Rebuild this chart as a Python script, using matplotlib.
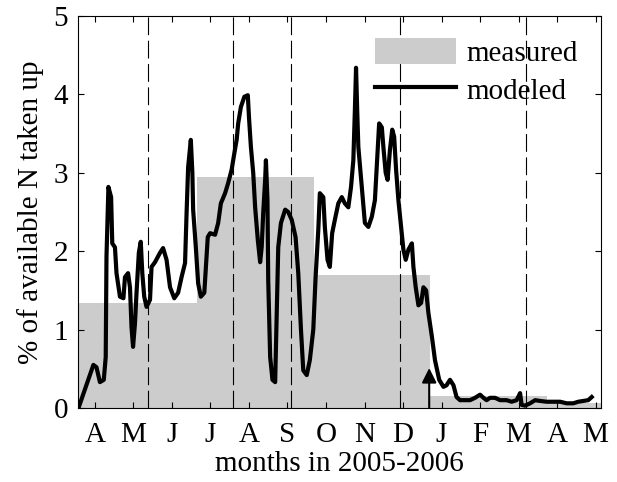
import matplotlib
matplotlib.use("Agg")

import matplotlib.pyplot as plt

# months on x axis: 0 = April 2005 ... 13 = May 2006
month_labels = ["A", "M", "J", "J", "A", "S", "O", "N", "D", "J", "F", "M", "A", "M"]

# measured uptake, one value per measuring period
period_edges = [-0.44, 2.65, 5.69, 8.70, 11.74, 13.14]
measured = [1.34, 2.95, 1.70, 0.15, 0.07]

# dates of measuring campaigns (dashed lines) and the arrow marker
campaigns = [1.38, 3.58, 5.09, 7.92, 11.19]
arrow_x = 8.68
arrow_top = 0.51

# modeled uptake
model_t = [-0.42, -0.04, 0.04, 0.13, 0.23, 0.28, 0.30, 0.35, 0.42, 0.45, 0.52, 0.56,
           0.65, 0.74, 0.78, 0.86, 0.91, 0.95, 0.99, 1.04, 1.08, 1.14, 1.19, 1.23,
           1.28, 1.34, 1.43, 1.47, 1.56, 1.69, 1.77, 1.86, 1.95, 2.06, 2.16, 2.25,
           2.34, 2.38, 2.42, 2.49, 2.53, 2.55, 2.62, 2.68, 2.75, 2.84, 2.93, 2.99,
           3.12, 3.20, 3.27, 3.38, 3.46, 3.55, 3.62, 3.68, 3.72, 3.79, 3.88, 3.97,
           4.00, 4.05, 4.11, 4.16, 4.23, 4.29, 4.33, 4.37, 4.42, 4.44, 4.48, 4.50,
           4.55, 4.61, 4.68, 4.72, 4.76, 4.83, 4.94, 5.02, 5.11, 5.21, 5.28, 5.35,
           5.41, 5.50, 5.58, 5.67, 5.73, 5.80, 5.84, 5.93, 5.97, 6.04, 6.10, 6.16,
           6.23, 6.32, 6.41, 6.49, 6.58, 6.65, 6.71, 6.75, 6.78, 6.81, 6.84, 6.93,
           7.01, 7.10, 7.19, 7.27, 7.34, 7.38, 7.45, 7.49, 7.55, 7.60, 7.66, 7.72,
           7.77, 7.82, 7.88, 7.95, 8.01, 8.07, 8.14, 8.23, 8.27, 8.33, 8.40, 8.47,
           8.53, 8.60, 8.66, 8.75, 8.83, 8.94, 9.05, 9.13, 9.22, 9.31, 9.39, 9.48,
           9.74, 9.87, 10.00, 10.09, 10.17, 10.26, 10.39, 10.52, 10.69, 10.82, 10.95, 11.04,
           11.08, 11.17, 11.30, 11.43, 11.56, 11.73, 11.90, 12.08, 12.25, 12.42, 12.55, 12.68,
           12.81, 12.90]
model_n = [0.01, 0.55, 0.52, 0.33, 0.36, 0.65, 1.93, 2.82, 2.69, 2.10, 2.05, 1.72,
           1.42, 1.40, 1.67, 1.72, 1.54, 1.03, 0.78, 1.08, 1.47, 1.98, 2.12, 1.72,
           1.42, 1.29, 1.38, 1.80, 1.86, 1.98, 2.04, 1.89, 1.54, 1.40, 1.47, 1.67,
           1.85, 2.49, 3.07, 3.42, 3.00, 2.53, 2.05, 1.59, 1.42, 1.47, 2.18, 2.23,
           2.21, 2.36, 2.61, 2.74, 2.87, 3.04, 3.25, 3.42, 3.63, 3.84, 3.97, 3.99,
           3.71, 3.33, 3.00, 2.56, 2.14, 1.86, 2.05, 2.49, 2.91, 3.16, 2.65, 1.63,
           0.65, 0.36, 0.33, 1.21, 2.05, 2.36, 2.53, 2.50, 2.40, 2.18, 1.72, 1.00,
           0.48, 0.42, 0.61, 1.00, 1.67, 2.27, 2.74, 2.69, 2.31, 1.89, 1.80, 2.23,
           2.40, 2.61, 2.69, 2.61, 2.56, 2.82, 3.16, 3.80, 4.34, 3.80, 3.33, 2.82,
           2.36, 2.31, 2.44, 2.65, 3.29, 3.63, 3.58, 3.33, 3.00, 2.91, 3.29, 3.55,
           3.46, 3.04, 2.65, 2.31, 2.02, 1.89, 2.02, 2.10, 1.80, 1.54, 1.31, 1.34,
           1.54, 1.50, 1.21, 0.91, 0.61, 0.36, 0.27, 0.29, 0.36, 0.29, 0.14, 0.10,
           0.10, 0.13, 0.17, 0.13, 0.10, 0.13, 0.13, 0.10, 0.10, 0.08, 0.10, 0.19,
           0.04, 0.03, 0.06, 0.10, 0.09, 0.08, 0.08, 0.08, 0.06, 0.06, 0.08, 0.09,
           0.10, 0.14]

plt.rcParams["font.family"] = ["Liberation Serif", "DejaVu Serif"]
plt.rcParams["font.size"] = 21

fig = plt.figure(figsize=(6.17, 4.82), dpi=100)
ax = fig.add_axes([0.1264, 0.1535, 0.8476, 0.8133])

widths = [period_edges[i + 1] - period_edges[i] for i in range(len(measured))]
bars = ax.bar(period_edges[:-1], measured, width=widths, align="edge",
              color="#cccccc", edgecolor="none", zorder=1)

for c in campaigns:
    ax.axvline(c, color="k", lw=0.8, dashes=(16, 5), zorder=2)

line, = ax.plot(model_t, model_n, color="k", lw=3.0, zorder=3)

ax.annotate("", xy=(arrow_x, arrow_top), xytext=(arrow_x, 0),
            arrowprops=dict(arrowstyle="-|>", color="k", lw=1.5,
                            mutation_scale=22, shrinkA=0, shrinkB=0),
            zorder=4)

ax.set_xlim(period_edges[0], period_edges[-1])
ax.set_ylim(0, 5)
ax.set_xticks(range(len(month_labels)))
ax.set_xticklabels(month_labels)
ax.set_yticks([0, 1, 2, 3, 4, 5])
ax.tick_params(direction="in", length=4, top=True, right=True)
ax.tick_params(axis="x", pad=10)
ax.tick_params(axis="y", pad=7)

ax.set_xlabel("months in 2005-2006", labelpad=2)
ax.set_ylabel("% of available N taken up", labelpad=7)

ax.legend([bars, line], ["measured", "modeled"], loc="upper left",
          bbox_to_anchor=(0.568, 0.945), frameon=False,
          borderpad=0, borderaxespad=0, handlelength=2.77, handleheight=1.03,
          handletextpad=0.36, labelspacing=0.3)

plt.savefig("out.png", dpi=100)
plt.close()
